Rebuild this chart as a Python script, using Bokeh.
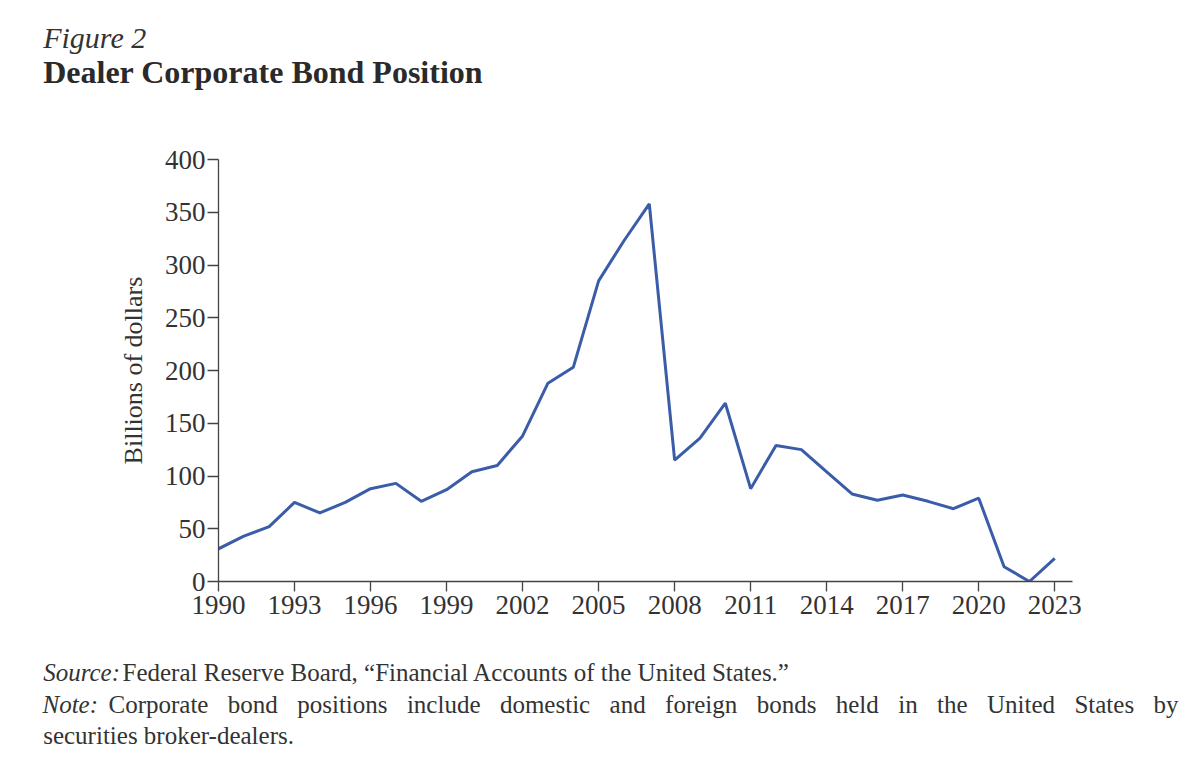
from bokeh.plotting import figure
from bokeh.models import Range1d, Label, FixedTicker
from bokeh.layouts import column
from bokeh.embed import file_html
from bokeh.resources import INLINE

# ---- data ----
years = list(range(1990, 2024))
positions = [31, 43, 52, 75, 65, 75, 88, 93, 76, 87, 104, 110, 138, 188, 203, 285,
             323, 358, 115, 136, 169, 88, 129, 125, 104, 83, 77, 82, 76, 69, 79, 14, 0, 22]
x_ticks = list(range(1990, 2024, 3))
y_ticks = list(range(0, 401, 50))

FONT = "Liberation Serif"
TXT = "#333333"
AX = "#444444"
W = 1200
HEAD_H, MAIN_H, FOOT_H = 120, 520, 128
DY = -10  # baseline correction for Label rendering


def text_panel(top, height):
    """A figure whose frame is the whole canvas; data units = page pixels."""
    f = figure(width=W, height=height, output_backend="svg", toolbar_location=None,
               x_range=Range1d(0, W), y_range=Range1d(top + height, top),
               x_axis_type=None, y_axis_type=None, min_border=0)
    f.outline_line_color = None
    f.grid.visible = False
    f.background_fill_color = "white"
    f.border_fill_color = "white"
    return f


head = text_panel(0, HEAD_H)
foot = text_panel(HEAD_H + MAIN_H, FOOT_H)

p = figure(width=W, height=MAIN_H, output_backend="svg", toolbar_location=None,
           x_range=Range1d(1990, 2023.7), y_range=Range1d(0, 400),
           min_border_left=218, min_border_right=128, min_border_top=39, min_border_bottom=59)
p.outline_line_color = None
p.grid.visible = False
p.background_fill_color = "white"
p.border_fill_color = "white"

p.line(years, positions, line_color="#3b5ca8", line_width=3)

for ax in (p.xaxis[0], p.yaxis[0]):
    ax.axis_line_color = AX
    ax.axis_line_width = 1.3
    ax.major_tick_line_color = AX
    ax.major_tick_line_width = 1.3
    ax.major_tick_in = 0
    ax.minor_tick_line_color = None
    ax.major_label_text_font = FONT
    ax.major_label_text_font_size = "27px"
    ax.major_label_text_color = TXT

p.xaxis.ticker = FixedTicker(ticks=x_ticks)
p.xaxis.major_tick_out = 10
p.xaxis.major_label_standoff = 4
p.yaxis.ticker = FixedTicker(ticks=y_ticks)
p.yaxis.major_tick_out = 11
p.yaxis.major_label_standoff = 2
p.yaxis.axis_label = "Billions of dollars"
p.yaxis.axis_label_text_font = FONT
p.yaxis.axis_label_text_font_size = "26px"
p.yaxis.axis_label_text_font_style = "normal"
p.yaxis.axis_label_text_color = TXT
p.yaxis.axis_label_standoff = 14

# keep each panel's frame independent (no cross-plot frame alignment)
for f in (head, p, foot):
    try:
        f.frame_align = False
    except Exception:
        pass


def lab(fig, text, px, baseline, size, style="normal", color=TXT):
    fig.add_layout(Label(x=px, y=baseline + DY, text=text, text_font=FONT, text_font_size=size,
                         text_font_style=style, text_color=color,
                         text_baseline="alphabetic", text_align="left"))


lab(head, "Figure 2", 42.7, 46.7, "30px", "italic")
lab(head, "Dealer Corporate Bond Position", 42.7, 81.7, "32px", "bold", "#2a2a2a")

lab(foot, "Source:", 42.7, 681.7, "25px", "italic")
lab(foot, "Federal Reserve Board, \u201cFinancial Accounts of the United States.\u201d", 122.0, 681.7, "25px")

# justified "Note" line: word widths from Times-metric advance widths (per 1000 em)
ADV = {"a": 444, "b": 500, "c": 444, "d": 500, "e": 444, "f": 333, "g": 500, "h": 500,
       "i": 278, "l": 278, "m": 778, "n": 500, "o": 500, "p": 500, "r": 333, "s": 389,
       "t": 278, "u": 500, "y": 500, "C": 667, "S": 556, "U": 722}
NOTE_SIZE = 25
lab(foot, "Note:", 42.0, 714.0, f"{NOTE_SIZE}px", "italic")
note_words = ["Corporate", "bond", "positions", "include", "domestic", "and", "foreign",
              "bonds", "held", "in", "the", "United", "States", "by"]
line_start, line_end = 108.0, 1178.0
widths = [sum(ADV[c] for c in w) / 1000 * NOTE_SIZE for w in note_words]
gap = (line_end - line_start - sum(widths)) / (len(note_words) - 1)
xx = line_start
for w, wd in zip(note_words, widths):
    lab(foot, w, xx, 714.0, f"{NOTE_SIZE}px")
    xx += wd + gap

lab(foot, "securities broker-dealers.", 42.7, 745.0, "25px")

layout = column(head, p, foot, spacing=0)
open("out.html", "w").write(file_html(layout, INLINE))
